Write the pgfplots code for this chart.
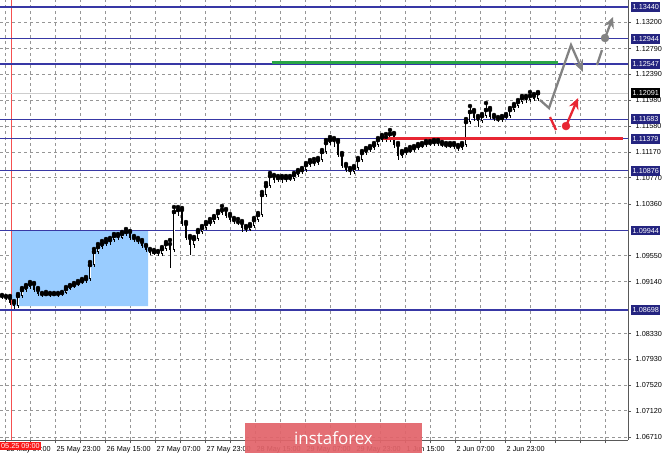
\documentclass[border=0pt]{standalone}
\usepackage{pgfplots}
\pgfplotsset{compat=1.18}
\usepackage{pgfplotstable}
\usepackage{fontspec}
\setmainfont{Liberation Sans}
\newfontfamily\wmfont{Open Sans}
\usetikzlibrary{arrows.meta}

\definecolor{lvl}{RGB}{56,56,165}
\definecolor{lvlbox}{RGB}{36,36,128}
\definecolor{zone}{RGB}{153,204,255}
\definecolor{tgt}{RGB}{40,165,70}
\definecolor{sup}{RGB}{232,38,50}
\definecolor{vline}{RGB}{245,80,80}
\definecolor{timebox}{RGB}{250,25,25}
\definecolor{fc}{RGB}{130,130,130}
\definecolor{wm}{RGB}{226,100,106}
\definecolor{gridc}{RGB}{150,150,150}
\definecolor{bidc}{RGB}{205,205,205}

\newcommand\lblfont{\fontsize{7.3}{8}\selectfont}

% hourly EURUSD candles, x in chart pixels
\pgfplotstableread{
x o h l c
2 1.08917 1.08933 1.08870 1.08901
6 1.08901 1.08917 1.08854 1.08886
10 1.08886 1.08917 1.08776 1.08807
14 1.08807 1.08838 1.08713 1.08760
18 1.08760 1.08948 1.08729 1.08917
22 1.08917 1.09042 1.08886 1.09011
26 1.09011 1.09089 1.08980 1.09057
30 1.09057 1.09136 1.09026 1.09104
34 1.09104 1.09120 1.08980 1.09011
38 1.09011 1.09042 1.08917 1.08948
42 1.08948 1.08964 1.08901 1.08933
46 1.08933 1.08980 1.08917 1.08948
50 1.08948 1.08964 1.08901 1.08933
54 1.08933 1.08964 1.08917 1.08948
58 1.08948 1.08964 1.08901 1.08933
62 1.08933 1.08980 1.08917 1.08964
66 1.08964 1.09057 1.08948 1.09026
70 1.09026 1.09089 1.09011 1.09073
74 1.09073 1.09120 1.09042 1.09089
78 1.09089 1.09151 1.09073 1.09120
82 1.09120 1.09183 1.09104 1.09151
86 1.09151 1.09214 1.09120 1.09183
90 1.09183 1.09449 1.09151 1.09402
94 1.09402 1.09653 1.09370 1.09606
98 1.09606 1.09730 1.09574 1.09683
102 1.09683 1.09777 1.09653 1.09730
106 1.09730 1.09809 1.09699 1.09762
110 1.09762 1.09825 1.09715 1.09793
114 1.09793 1.09887 1.09762 1.09856
118 1.09856 1.09887 1.09793 1.09825
122 1.09825 1.09919 1.09809 1.09887
126 1.09887 1.09965 1.09856 1.09919
130 1.09919 1.09934 1.09793 1.09825
134 1.09825 1.09856 1.09762 1.09793
138 1.09793 1.09825 1.09730 1.09762
142 1.09762 1.09793 1.09668 1.09699
146 1.09699 1.09715 1.09606 1.09637
150 1.09637 1.09653 1.09559 1.09590
154 1.09590 1.09637 1.09559 1.09606
158 1.09606 1.09621 1.09543 1.09574
162 1.09574 1.09683 1.09543 1.09653
166 1.09653 1.09762 1.09621 1.09730
170 1.09730 1.09793 1.09355 1.09637
174 1.09637 1.10309 1.09606 1.10232
178 1.10232 1.10309 1.10169 1.10263
182 1.10263 1.10294 1.10012 1.10043
186 1.10043 1.10075 1.09793 1.09825
190 1.09825 1.09856 1.09559 1.09715
194 1.09715 1.09840 1.09668 1.09809
198 1.09809 1.09950 1.09777 1.09919
202 1.09919 1.10012 1.09887 1.09981
206 1.09981 1.10075 1.09950 1.10043
210 1.10043 1.10122 1.10012 1.10075
214 1.10075 1.10169 1.10043 1.10138
218 1.10138 1.10247 1.10106 1.10216
222 1.10216 1.10325 1.10185 1.10263
226 1.10263 1.10278 1.10138 1.10169
230 1.10169 1.10200 1.10075 1.10106
234 1.10106 1.10138 1.10043 1.10075
238 1.10075 1.10122 1.10028 1.10059
242 1.10059 1.10090 1.09919 1.09981
246 1.09981 1.10012 1.09919 1.09950
250 1.09950 1.10043 1.09934 1.10012
254 1.10012 1.10138 1.09981 1.10106
258 1.10106 1.10216 1.10075 1.10185
262 1.10185 1.10545 1.10153 1.10498
266 1.10498 1.10685 1.10466 1.10638
270 1.10638 1.10842 1.10607 1.10795
274 1.10795 1.10811 1.10685 1.10732
278 1.10732 1.10795 1.10701 1.10764
282 1.10764 1.10795 1.10685 1.10732
286 1.10732 1.10795 1.10701 1.10764
290 1.10764 1.10795 1.10716 1.10748
294 1.10748 1.10842 1.10716 1.10811
298 1.10811 1.10889 1.10779 1.10858
302 1.10858 1.10920 1.10826 1.10889
306 1.10889 1.10998 1.10858 1.10967
310 1.10967 1.11045 1.10935 1.11014
314 1.11014 1.11061 1.10951 1.10998
318 1.10998 1.11077 1.10967 1.11045
322 1.11045 1.11202 1.11014 1.11171
326 1.11171 1.11358 1.11139 1.11311
330 1.11311 1.11405 1.11280 1.11358
334 1.11358 1.11389 1.11249 1.11327
338 1.11327 1.11358 1.11092 1.11124
342 1.11124 1.11155 1.10920 1.10951
346 1.10951 1.10983 1.10858 1.10889
350 1.10889 1.10920 1.10811 1.10858
354 1.10858 1.10951 1.10826 1.10920
358 1.10920 1.11077 1.10889 1.11045
362 1.11045 1.11186 1.11014 1.11155
366 1.11155 1.11233 1.11124 1.11202
370 1.11202 1.11264 1.11171 1.11233
374 1.11233 1.11311 1.11202 1.11280
378 1.11280 1.11389 1.11249 1.11358
382 1.11358 1.11437 1.11327 1.11405
386 1.11405 1.11452 1.11327 1.11358
390 1.11358 1.11515 1.11327 1.11452
394 1.11452 1.11468 1.11233 1.11280
398 1.11280 1.11311 1.11045 1.11108
402 1.11108 1.11186 1.11077 1.11155
406 1.11155 1.11217 1.11124 1.11186
410 1.11186 1.11249 1.11155 1.11202
414 1.11202 1.11264 1.11171 1.11233
418 1.11233 1.11296 1.11202 1.11264
422 1.11264 1.11311 1.11233 1.11280
426 1.11280 1.11342 1.11249 1.11311
430 1.11311 1.11342 1.11264 1.11296
434 1.11296 1.11358 1.11264 1.11327
438 1.11327 1.11358 1.11264 1.11296
442 1.11296 1.11327 1.11249 1.11280
446 1.11280 1.11311 1.11233 1.11264
450 1.11264 1.11311 1.11233 1.11280
454 1.11280 1.11311 1.11217 1.11249
458 1.11249 1.11280 1.11186 1.11233
462 1.11233 1.11311 1.11202 1.11280
466 1.11280 1.11687 1.11249 1.11640
470 1.11640 1.11890 1.11608 1.11797
474 1.11797 1.11828 1.11655 1.11703
478 1.11703 1.11734 1.11562 1.11655
482 1.11655 1.11765 1.11624 1.11734
486 1.11734 1.11937 1.11703 1.11828
490 1.11828 1.11859 1.11687 1.11718
494 1.11718 1.11750 1.11655 1.11687
498 1.11687 1.11718 1.11640 1.11671
502 1.11671 1.11734 1.11640 1.11703
506 1.11703 1.11765 1.11687 1.11734
510 1.11734 1.11859 1.11703 1.11828
514 1.11828 1.11921 1.11797 1.11890
518 1.11890 1.11984 1.11859 1.11953
522 1.11953 1.12047 1.11921 1.12015
526 1.12015 1.12047 1.11937 1.11984
530 1.11984 1.12109 1.11953 1.12047
534 1.12047 1.12078 1.11968 1.12000
538 1.12000 1.12109 1.11968 1.12091
}\candles

\begin{document}
\begin{tikzpicture}
\useasboundingbox (0,0) rectangle (665bp,455bp);
\begin{axis}[
  at={(0,15bp)}, anchor=south west,
  width=628bp, height=440bp, scale only axis,
  xmin=0, xmax=628, ymin=1.06663, ymax=1.13550,
  clip=false,
  axis x line*=bottom, axis y line*=right,
  axis line style={-, black!65, line width=0.8bp},
  tick align=outside, major tick length=3bp, minor tick length=3bp,
  tick style={black!65, line width=0.5bp},
  xtick={5.5,55.5,105.5,155.5,205.5,255.5,305.5,355.5,405.5,455.5,505.5},
  xticklabels={25 May 07:00,25 May 23:00,26 May 15:00,27 May 07:00,27 May 23:00,28 May 15:00,29 May 07:00,29 May 23:00,1 Jun 15:00,2 Jun 07:00,2 Jun 23:00},
  minor xtick={30.5,80.5,130.5,180.5,230.5,280.5,330.5,380.5,430.5,480.5,530.5,555.5,580.5,605.5},
  ytick={1.06710,1.07120,1.07520,1.07930,1.08330,1.09140,1.09550,1.10360,1.10770,1.11170,1.11580,1.11980,1.12390,1.12790,1.13200},
  yticklabels={1.06710,1.07120,1.07520,1.07930,1.08330,1.09140,1.09550,1.10360,1.10770,1.11170,1.11580,1.11980,1.12390,1.12790,1.13200},
  xticklabel style={anchor=north west, inner sep=0pt, xshift=1bp, yshift=-3bp, font=\lblfont},
  yticklabel style={anchor=west, inner sep=0pt, xshift=4.5bp, font=\lblfont},
  grid=both,
  major grid style={gridc, dash pattern=on 3bp off 3bp, line width=0.7bp},
  minor grid style={gridc, dash pattern=on 3bp off 3bp, line width=0.7bp},
]
% consolidation zone
\addplot[fill=zone, draw=none, forget plot] coordinates {(11,1.09944) (148,1.09944) (148,1.08760) (11,1.08760) (11,1.09944)};
\addplot[vline, line width=1bp, forget plot] coordinates {(11,1.06663) (11,1.13550)};
\addplot[bidc, line width=0.8bp, forget plot] coordinates {(0,1.12091) (628,1.12091)};
% levels
\foreach \v in {1.13440,1.12944,1.12547,1.11683,1.11379,1.10876,1.09944,1.08698}{
  \edef\tmp{\noexpand\addplot[lvl, line width=1.2bp, forget plot] coordinates {(0,\v) (628,\v)};}\tmp
}
% candles: wicks, bodies, hollow bullish bodies
\addplot[only marks, mark=none, forget plot,
  error bars/.cd, y dir=minus, y explicit, error mark=none,
  error bar style={draw=black, line width=0.6bp}]
  table[x=x, y=h, y error minus expr={\thisrow{h}-\thisrow{l}}] {\candles};
\addplot[only marks, mark=none, forget plot,
  error bars/.cd, y dir=minus, y explicit, error mark=none,
  error bar style={draw=black, line width=2.4bp}]
  table[x=x, y expr={max(\thisrow{o},\thisrow{c})}, y error minus expr={abs(\thisrow{o}-\thisrow{c})}] {\candles};
\addplot[only marks, mark=none, forget plot,
  error bars/.cd, y dir=minus, y explicit, error mark=none,
  error bar style={draw=white, line width=1.0bp, shorten <=0.7bp, shorten >=0.7bp}]
  table[x=x, y expr={\thisrow{c}>\thisrow{o} ? \thisrow{c} : nan}, y error minus expr={\thisrow{c}-\thisrow{o}}] {\candles};
% support and target
\addplot[sup, line width=2.5bp, forget plot] coordinates {(383,1.11379) (623,1.11379)};
\addplot[tgt, line width=2.5bp, forget plot] coordinates {(272,1.12571) (558,1.12571)};
% forecast paths
\addplot[fc, line width=2.3bp, -{Stealth[length=12bp,width=10bp]}, forget plot] coordinates {(540,1.11984) (549,1.11859) (571,1.12845) (583,1.12423)};
\addplot[fc, line width=2.3bp, forget plot] coordinates {(597,1.12532) (602,1.12767)};
\addplot[fc, line width=2.3bp, -{Stealth[length=11bp,width=10bp]}, forget plot] coordinates {(605,1.12955) (613,1.13284)};
\addplot[fc, only marks, mark=*, mark size=4bp, forget plot] coordinates {(605,1.12955)};
\addplot[sup, line width=2.3bp, forget plot] coordinates {(550,1.11718) (556,1.11515)};
\addplot[sup, line width=2.3bp, -{Stealth[length=11bp,width=10bp]}, forget plot] coordinates {(566,1.11577) (578,1.12015)};
\addplot[sup, only marks, mark=*, mark size=4bp, forget plot] coordinates {(566,1.11577)};
% price boxes
\tikzset{pbox/.style={fill=#1, text=white, anchor=west, xshift=3bp, inner xsep=1.5bp, inner ysep=2.2bp, text height=5.3bp, text depth=0pt, font=\lblfont}}
\node[pbox=lvlbox] at (axis cs:628,1.13440) {1.13440};
\node[pbox=lvlbox] at (axis cs:628,1.12944) {1.12944};
\node[pbox=lvlbox] at (axis cs:628,1.12547) {1.12547};
\node[pbox=black] at (axis cs:628,1.12091) {1.12091};
\node[pbox=lvlbox] at (axis cs:628,1.11683) {1.11683};
\node[pbox=lvlbox] at (axis cs:628,1.11379) {1.11379};
\node[pbox=lvlbox] at (axis cs:628,1.10876) {1.10876};
\node[pbox=lvlbox] at (axis cs:628,1.09944) {1.09944};
\node[pbox=lvlbox] at (axis cs:628,1.08698) {1.08698};
\end{axis}
\node[fill=timebox, text=white, anchor=north west, inner xsep=1bp, inner ysep=1.5bp, text height=5.3bp, text depth=0pt, font=\lblfont] at (0,13.5bp) {05.25 09:00};
\fill[wm, opacity=0.93] (245bp,2bp) rectangle (422bp,32bp);
\node[text=white, font=\wmfont\fontsize{17}{18}\selectfont] at (333.5bp,17bp) {instaforex};
\end{tikzpicture}
\end{document}
